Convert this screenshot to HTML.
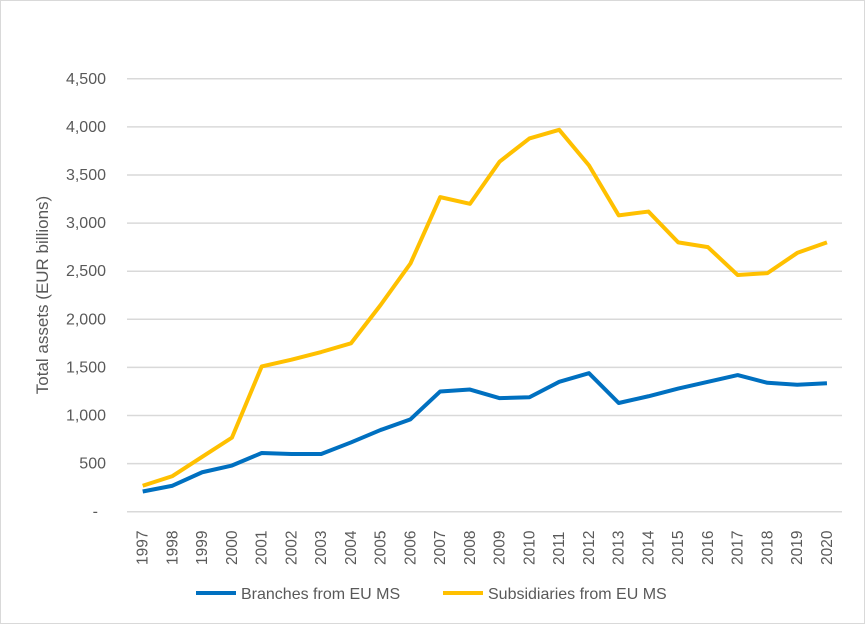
<!DOCTYPE html>
<html><head><style>body{margin:0;background:#fff}</style></head><body>
<svg width="865" height="624" xmlns="http://www.w3.org/2000/svg" font-family="Liberation Sans, sans-serif">
<rect x="0.5" y="0.5" width="864" height="623" fill="#fff" stroke="#d9d9d9"/>
<g id="grid" stroke="#d9d9d9" stroke-width="1.5"></g>
<g id="yl" font-size="16" fill="#595959" text-anchor="end"></g>
<g id="xl" font-size="15.5" fill="#595959"></g>
<text transform="translate(48,295) rotate(-90)" text-anchor="middle" font-size="17" fill="#595959">Total assets (EUR billions)</text>
<polyline id="s" fill="none" stroke="#ffc000" stroke-width="4" stroke-linejoin="round"/>
<polyline id="b" fill="none" stroke="#0070c0" stroke-width="4" stroke-linejoin="round"/>
<line x1="196" y1="593" x2="236" y2="593" stroke="#0070c0" stroke-width="4"/>
<text x="241" y="599" font-size="16" fill="#595959">Branches from EU MS</text>
<line x1="443" y1="593" x2="483" y2="593" stroke="#ffc000" stroke-width="4"/>
<text x="488" y="599" font-size="16" fill="#595959">Subsidiaries from EU MS</text>
</svg>
<script>
const NS="http://www.w3.org/2000/svg";
const y=v=>511.7-v*0.0962, x=i=>142.7+i*29.75;
const g=document.getElementById('grid'),yl=document.getElementById('yl'),xl=document.getElementById('xl');
for(let k=0;k<=9;k++){const v=k*500;const l=document.createElementNS(NS,'line');l.setAttribute('x1',127);l.setAttribute('x2',842);l.setAttribute('y1',y(v));l.setAttribute('y2',y(v));g.appendChild(l);
const t=document.createElementNS(NS,'text');t.setAttribute('x',k?106:98);t.setAttribute('y',y(v)+5);t.textContent=k?v.toLocaleString('en-US'):'-';yl.appendChild(t);}
for(let i=0;i<24;i++){const t=document.createElementNS(NS,'text');t.setAttribute('transform',`translate(${x(i)+5},565) rotate(-90)`);t.textContent=1997+i;xl.appendChild(t);}
const B=[210,270,410,480,610,600,600,720,850,960,1250,1270,1180,1190,1350,1440,1130,1200,1280,1350,1420,1340,1320,1335];
const S=[270,370,570,770,1510,1580,1660,1750,2150,2580,3270,3200,3640,3880,3970,3600,3080,3120,2800,2750,2460,2480,2690,2800];
document.getElementById('b').setAttribute('points',B.map((v,i)=>x(i)+','+y(v)).join(' '));
document.getElementById('s').setAttribute('points',S.map((v,i)=>x(i)+','+y(v)).join(' '));
</script>
</body></html>
